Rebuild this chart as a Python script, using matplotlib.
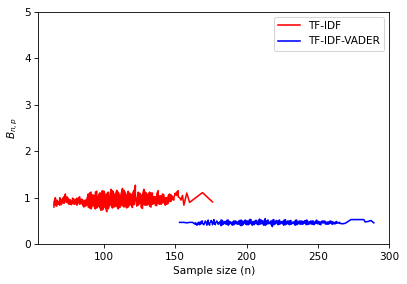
import matplotlib
matplotlib.use("Agg")
import matplotlib.pyplot as plt

# TF-IDF: two readings of B_{n,p} per sample size n, then a sparse tail
tfidf_n = list(range(65, 153))
tfidf_run1 = [0.80, 1.00, 0.82, 0.86, 0.84, 0.95, 0.90, 1.02, 1.08, 0.90,
              0.98, 0.86, 0.93, 0.88, 0.97, 0.87, 0.99, 0.90, 1.02, 0.88,
              0.96, 0.80, 0.95, 0.84, 1.08, 0.78, 1.12, 0.85, 1.05, 0.76,
              1.14, 0.82, 1.10, 0.73, 1.15, 0.80, 1.05, 0.70, 1.12, 0.85,
              1.18, 0.78, 1.08, 0.82, 1.16, 0.76, 1.04, 0.84, 1.20, 0.80,
              1.10, 0.78, 1.14, 0.86, 1.06, 0.79, 1.16, 1.27, 0.82, 1.12,
              0.88, 1.05, 0.77, 1.18, 0.84, 1.08, 0.86, 1.12, 0.80, 1.10,
              0.88, 1.02, 0.83, 1.15, 0.86, 1.04, 0.90, 1.06, 0.84, 1.00,
              0.88, 1.08, 0.92, 1.02, 0.95, 1.10, 1.05, 1.15]
tfidf_run2 = [0.90, 0.84, 0.95, 0.92, 1.00, 0.85, 0.98, 0.88, 0.92, 1.02,
              0.87, 0.96, 0.85, 0.99, 0.86, 0.95, 0.84, 0.98, 0.86, 0.97,
              0.85, 0.93, 0.82, 0.96,
              0.80, 1.10, 0.76, 1.06, 0.82, 1.12, 0.78, 1.02, 0.80, 1.10,
              0.74, 1.14, 0.80, 1.08, 0.76, 1.02, 0.84, 1.15, 0.80, 1.06,
              0.82, 1.12, 0.79, 1.08, 0.84, 1.16, 0.82, 1.04, 0.80, 1.10,
              0.84, 1.08, 0.85, 1.00, 0.96, 0.84, 1.10, 0.80, 1.06, 0.85,
              1.12, 0.84, 1.06, 0.82, 1.10, 0.86, 1.02, 0.84, 1.08, 0.88,
              1.04, 0.86, 1.08, 0.90, 1.00, 0.86, 1.04, 0.92, 1.06, 0.96,
              1.00, 1.08, 1.12, 1.02]
tfidf_tail_n = [153, 154, 155, 156, 158, 160, 169, 176]
tfidf_tail_b = [1.00, 0.95, 1.05, 0.84, 1.10, 0.90, 1.11, 0.91]

# TF-IDF-VADER
vader_head_n = [153, 156, 158, 160, 162]
vader_head_b = [0.47, 0.47, 0.46, 0.47, 0.47]
vader_n = list(range(164, 266))
vader_run1 = [0.43, 0.44, 0.43, 0.47, 0.44, 0.50, 0.42, 0.48, 0.44, 0.52,
              0.41, 0.49, 0.45, 0.53, 0.42, 0.50, 0.44, 0.48, 0.40, 0.51,
              0.45, 0.49, 0.43, 0.52, 0.44, 0.47, 0.41, 0.50, 0.45, 0.48,
              0.43, 0.51, 0.40, 0.49, 0.46, 0.52, 0.42, 0.50, 0.44, 0.53,
              0.41, 0.49, 0.45, 0.51, 0.42, 0.54, 0.44, 0.50, 0.41, 0.55,
              0.43, 0.52, 0.45, 0.50, 0.38, 0.53, 0.44, 0.51, 0.42, 0.52,
              0.45, 0.49, 0.41, 0.53, 0.44, 0.50, 0.42, 0.51, 0.45, 0.48,
              0.41, 0.52, 0.44, 0.50, 0.43, 0.49, 0.45, 0.51, 0.42, 0.48,
              0.44, 0.50, 0.43, 0.49, 0.45, 0.52, 0.44, 0.48, 0.42, 0.50,
              0.46, 0.49, 0.43, 0.48, 0.45, 0.50, 0.43, 0.47, 0.44, 0.49,
              0.46, 0.47]
vader_run2 = [0.46, 0.41, 0.47, 0.42, 0.49, 0.45, 0.43, 0.50, 0.41, 0.47,
              0.45, 0.51, 0.42, 0.48, 0.44, 0.50, 0.43, 0.47, 0.52, 0.42,
              0.48, 0.44, 0.51, 0.41, 0.49, 0.45, 0.47, 0.42, 0.50, 0.44,
              0.48, 0.43, 0.52, 0.41, 0.49, 0.44, 0.50, 0.42, 0.53, 0.45,
              0.48, 0.42, 0.51, 0.44, 0.47, 0.43, 0.52, 0.45, 0.49, 0.41,
              0.50, 0.44, 0.47, 0.43, 0.51, 0.42, 0.49, 0.46, 0.50, 0.43,
              0.48, 0.45, 0.51, 0.42, 0.49, 0.44, 0.50, 0.43, 0.47, 0.45,
              0.51, 0.42, 0.48, 0.44, 0.50, 0.43, 0.49, 0.45, 0.52, 0.43,
              0.48, 0.44, 0.50, 0.42, 0.47, 0.45, 0.49, 0.43, 0.48, 0.46,
              0.50, 0.44, 0.47, 0.43, 0.49, 0.45, 0.48, 0.44, 0.47, 0.45,
              0.46, 0.45]
vader_tail_n = [267, 269, 273, 277, 282, 283, 285, 287, 289]
vader_tail_b = [0.44, 0.45, 0.53, 0.53, 0.53, 0.48, 0.49, 0.51, 0.46]


def interleave(ns, run1, run2):
    xs, ys = [], []
    for n, a, b in zip(ns, run1, run2):
        xs += [n, n]
        ys += [a, b]
    return xs, ys


red_x, red_y = interleave(tfidf_n, tfidf_run1, tfidf_run2)
red_x += tfidf_tail_n
red_y += tfidf_tail_b

blue_x, blue_y = interleave(vader_n, vader_run1, vader_run2)
blue_x = vader_head_n + blue_x + vader_tail_n
blue_y = vader_head_b + blue_y + vader_tail_b

DPI = 76
fig, ax = plt.subplots(figsize=(407 / DPI, 284 / DPI), dpi=DPI)
fig.subplots_adjust(left=0.094, right=0.957, top=0.959, bottom=0.140)

ax.plot(red_x, red_y, color="red", label="TF-IDF")
ax.plot(blue_x, blue_y, color="blue", label="TF-IDF-VADER")

ax.set_xlim(54, 300)
ax.set_ylim(0, 5)
ax.set_xlabel("Sample size (n)")
ax.set_ylabel("$B_{n,p}$")
ax.legend(loc="upper right")

plt.savefig("out.png", dpi=DPI)
